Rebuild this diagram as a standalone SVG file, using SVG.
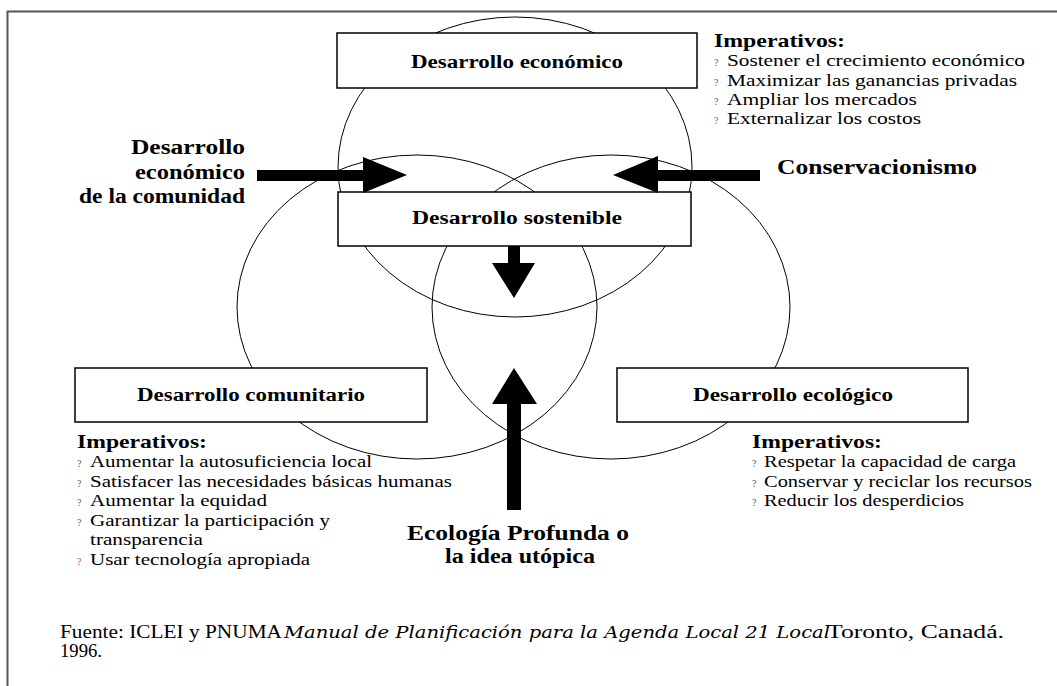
<svg xmlns="http://www.w3.org/2000/svg" width="1057" height="686" viewBox="0 0 1057 686">
<style>
.t{font-family:"Liberation Serif","Times New Roman",serif;fill:#000}
.i{font-family:"DejaVu Serif","Liberation Serif",serif;font-style:italic}
.b{font-weight:bold}
.box{fill:#fff;stroke:#000;stroke-width:1.5}
.ring{fill:none;stroke:#000;stroke-width:1}
.it{font-size:17px}
.hd{font-size:19px;font-weight:bold}
.ti{font-size:18px;font-weight:bold}
.bu{font-size:10px;fill:#555}
.bur{font-size:10px;fill:#c04040}
.ar{fill:#000}
</style>
<rect width="1057" height="686" fill="#fff"/>
<path d="M7.5 686 V11.5 H1057" fill="none" stroke="#555" stroke-width="2"/>
<g id="circles">
<ellipse class="ring" cx="515" cy="167" rx="177" ry="150"/>
<ellipse class="ring" cx="417" cy="307" rx="180" ry="152"/>
<ellipse class="ring" cx="611" cy="307" rx="179" ry="152"/>
</g>
<g id="node-economico">
<rect class="box" x="337" y="33" width="360" height="55"/>
<text class="t ti" x="517" y="68" text-anchor="middle" textLength="212" lengthAdjust="spacingAndGlyphs">Desarrollo económico</text>
</g>
<g id="node-sostenible">
<rect class="box" x="338" y="192" width="353" height="54"/>
<text class="t ti" x="517" y="224" text-anchor="middle" textLength="210" lengthAdjust="spacingAndGlyphs">Desarrollo sostenible</text>
</g>
<g id="node-comunitario">
<rect class="box" x="75" y="368" width="352" height="54"/>
<text class="t ti" x="251" y="401" text-anchor="middle" textLength="228" lengthAdjust="spacingAndGlyphs">Desarrollo comunitario</text>
</g>
<g id="node-ecologico">
<rect class="box" x="617" y="368" width="351" height="54"/>
<text class="t ti" x="793" y="401" text-anchor="middle" textLength="200" lengthAdjust="spacingAndGlyphs">Desarrollo ecológico</text>
</g>
<g id="connectors">
<polygon class="ar" points="257,170 363,170 363,157 407,175 363,193 363,181 257,181"/>
<polygon class="ar" points="760,170 658,170 658,156 613,175 658,193 658,181 760,181"/>
<polygon class="ar" points="508,246 520,246 520,263 535,263 514,298 492,263 508,263"/>
<polygon class="ar" points="507,510 521,510 521,404 537,404 514,368 492,404 507,404"/>
</g>
<g id="label-comunidad">
<text class="t b" x="245" y="154" font-size="20" text-anchor="end" textLength="114" lengthAdjust="spacingAndGlyphs">Desarrollo</text>
<text class="t b" x="245" y="179" font-size="20" text-anchor="end" textLength="110" lengthAdjust="spacingAndGlyphs">económico</text>
<text class="t b" x="245" y="203" font-size="20" text-anchor="end" textLength="166" lengthAdjust="spacingAndGlyphs">de la comunidad</text>
</g>
<g id="label-conservacionismo">
<text class="t b" x="777" y="174" font-size="20" textLength="200" lengthAdjust="spacingAndGlyphs">Conservacionismo</text>
</g>
<g id="label-ecologia">
<text class="t b" x="518" y="540" font-size="20" text-anchor="middle" textLength="222" lengthAdjust="spacingAndGlyphs">Ecología Profunda o</text>
<text class="t b" x="520" y="563" font-size="20" text-anchor="middle" textLength="150" lengthAdjust="spacingAndGlyphs">la idea utópica</text>
</g>
<g id="imp-economico">
<text class="t hd" x="714" y="47" textLength="131" lengthAdjust="spacingAndGlyphs">Imperativos:</text>
<text class="t bu" x="714" y="66">?</text><text class="t it" x="727" y="66" textLength="298" lengthAdjust="spacingAndGlyphs">Sostener el crecimiento económico</text>
<text class="t bu" x="714" y="86">?</text><text class="t it" x="727" y="86" textLength="290" lengthAdjust="spacingAndGlyphs">Maximizar las ganancias privadas</text>
<text class="t bu" x="714" y="105">?</text><text class="t it" x="727" y="105" textLength="190" lengthAdjust="spacingAndGlyphs">Ampliar los mercados</text>
<text class="t bur" x="714" y="124">?</text><text class="t it" x="727" y="124" textLength="194" lengthAdjust="spacingAndGlyphs">Externalizar los costos</text>
</g>
<g id="imp-comunitario">
<text class="t hd" x="77" y="448" textLength="130" lengthAdjust="spacingAndGlyphs">Imperativos:</text>
<text class="t bu" x="77" y="467">?</text><text class="t it" x="90" y="467" textLength="282" lengthAdjust="spacingAndGlyphs">Aumentar la autosuficiencia local</text>
<text class="t bu" x="77" y="487">?</text><text class="t it" x="90" y="487" textLength="362" lengthAdjust="spacingAndGlyphs">Satisfacer las necesidades básicas humanas</text>
<text class="t bu" x="77" y="506">?</text><text class="t it" x="90" y="506" textLength="177" lengthAdjust="spacingAndGlyphs">Aumentar la equidad</text>
<text class="t bu" x="77" y="526">?</text><text class="t it" x="90" y="526" textLength="240" lengthAdjust="spacingAndGlyphs">Garantizar la participación y</text>
<text class="t it" x="90" y="545" textLength="113" lengthAdjust="spacingAndGlyphs">transparencia</text>
<text class="t bur" x="77" y="565">?</text><text class="t it" x="90" y="565" textLength="220" lengthAdjust="spacingAndGlyphs">Usar tecnología apropiada</text>
</g>
<g id="imp-ecologico">
<text class="t hd" x="752" y="448" textLength="130" lengthAdjust="spacingAndGlyphs">Imperativos:</text>
<text class="t bu" x="752" y="467">?</text><text class="t it" x="764" y="467" textLength="252" lengthAdjust="spacingAndGlyphs">Respetar la capacidad de carga</text>
<text class="t bu" x="752" y="487">?</text><text class="t it" x="764" y="487" textLength="268" lengthAdjust="spacingAndGlyphs">Conservar y reciclar los recursos</text>
<text class="t bu" x="752" y="506">?</text><text class="t it" x="764" y="506" textLength="200" lengthAdjust="spacingAndGlyphs">Reducir los desperdicios</text>
</g>
<g id="fuente">
<text class="t" x="60" y="638" font-size="18" textLength="222" lengthAdjust="spacingAndGlyphs">Fuente: ICLEI y PNUMA</text>
<text class="t i" x="284" y="638" font-size="17" textLength="546" lengthAdjust="spacingAndGlyphs">Manual de Planificación para la Agenda Local 21 Local</text>
<text class="t" x="827" y="638" font-size="18" textLength="177" lengthAdjust="spacingAndGlyphs">Toronto, Canadá.</text>
<text class="t" x="60" y="657" font-size="18" textLength="42" lengthAdjust="spacingAndGlyphs">1996.</text>
</g>
</svg>
